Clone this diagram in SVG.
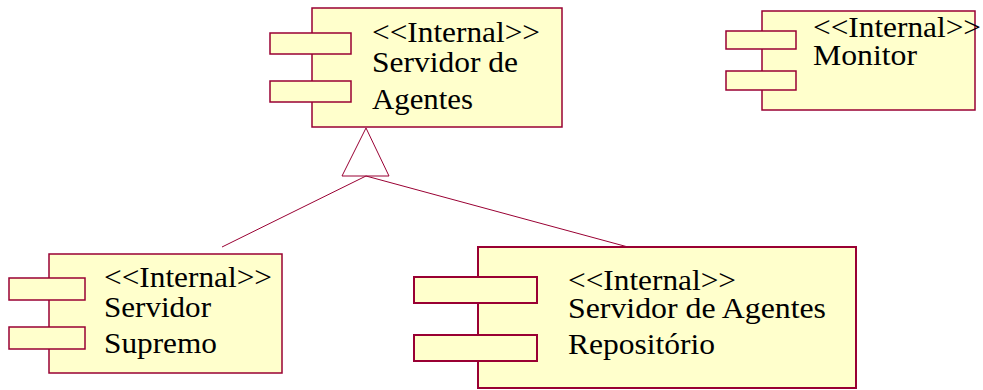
<svg xmlns="http://www.w3.org/2000/svg" width="983" height="390" viewBox="0 0 983 390">
<style>
.b{fill:#ffffcc;stroke:#990033;stroke-width:1.5}
.b2{fill:#ffffcc;stroke:#990033;stroke-width:2}
.t{font-family:'Liberation Serif','Times New Roman','DejaVu Serif',serif;font-size:30px;fill:#000}
.c{fill:none;stroke:#990033;stroke-width:1}
</style>
<rect width="983" height="390" fill="#fff"/>
<g id="servidor-agentes">
<rect class="b" x="312" y="8" width="250" height="119"/>
<rect class="b" x="270" y="33" width="81" height="21"/>
<rect class="b" x="270" y="81" width="81" height="21"/>
<text class="t" x="372" y="42" textLength="168" lengthAdjust="spacingAndGlyphs">&lt;&lt;Internal&gt;&gt;</text>
<text class="t" x="372" y="72" textLength="146" lengthAdjust="spacingAndGlyphs">Servidor de</text>
<text class="t" x="372" y="109" textLength="101" lengthAdjust="spacingAndGlyphs">Agentes</text>
</g>
<g id="monitor">
<rect class="b" x="762" y="11" width="213" height="99"/>
<rect class="b" x="726" y="31" width="70" height="18"/>
<rect class="b" x="726" y="71" width="70" height="19"/>
<text class="t" x="813" y="37" textLength="168" lengthAdjust="spacingAndGlyphs">&lt;&lt;Internal&gt;&gt;</text>
<text class="t" x="813" y="65" textLength="104" lengthAdjust="spacingAndGlyphs">Monitor</text>
</g>
<g id="servidor-supremo">
<rect class="b" x="49" y="254" width="233" height="119"/>
<rect class="b" x="9" y="278" width="76" height="22"/>
<rect class="b" x="9" y="327" width="76" height="22"/>
<text class="t" x="104" y="287" textLength="168" lengthAdjust="spacingAndGlyphs">&lt;&lt;Internal&gt;&gt;</text>
<text class="t" x="104" y="317" textLength="107" lengthAdjust="spacingAndGlyphs">Servidor</text>
<text class="t" x="104" y="353" textLength="113" lengthAdjust="spacingAndGlyphs">Supremo</text>
</g>
<g id="repositorio">
<rect class="b2" x="478" y="247" width="378" height="141"/>
<rect class="b2" x="414" y="277" width="123" height="26"/>
<rect class="b2" x="414" y="335" width="123" height="26"/>
<text class="t" x="568" y="290" textLength="168" lengthAdjust="spacingAndGlyphs">&lt;&lt;Internal&gt;&gt;</text>
<text class="t" x="568" y="318" textLength="258" lengthAdjust="spacingAndGlyphs">Servidor de Agentes</text>
<text class="t" x="568" y="354" textLength="147" lengthAdjust="spacingAndGlyphs">Repositório</text>
</g>
<g id="connectors">
<polygon class="c" points="366,128 342,176 389,176"/>
<line class="c" x1="366" y1="176" x2="222" y2="247"/>
<line class="c" x1="366" y1="176" x2="628" y2="247"/>
</g>
</svg>
